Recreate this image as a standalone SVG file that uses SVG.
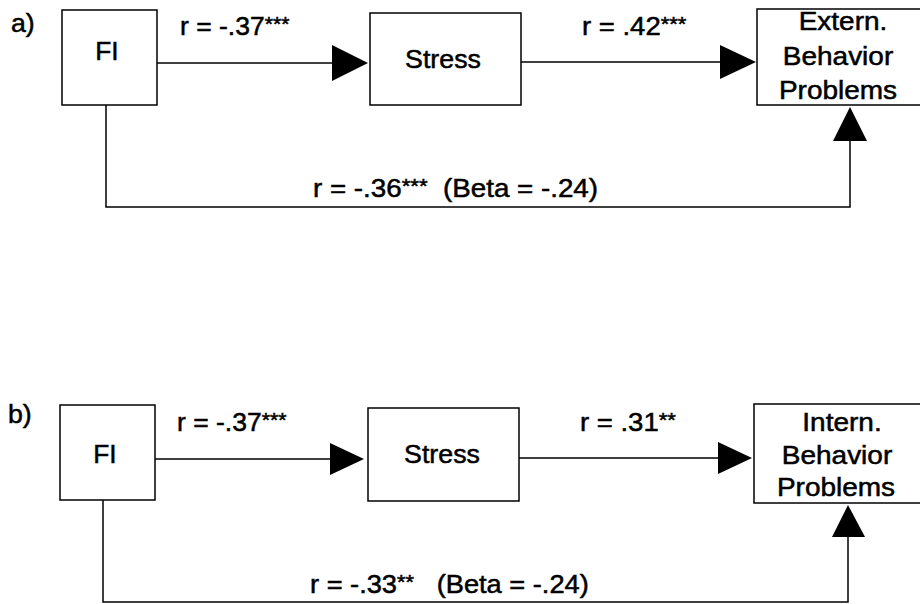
<svg xmlns="http://www.w3.org/2000/svg" width="920" height="604" viewBox="0 0 920 604">
  <style>
    .box { fill: #ffffff; stroke: #000000; stroke-width: 1.5; }
    .wire { fill: none; stroke: #000000; stroke-width: 1.5; }
    .head { fill: #000000; stroke: none; }
    .t { font-family: "Liberation Sans", Arial, sans-serif; font-size: 25px; fill: #000000; stroke: #000000; stroke-width: 0.5; }
    .mid { text-anchor: middle; }
    .st { font-size: 20px; }
  </style>
  <rect width="920" height="604" fill="#ffffff"/>

  <!-- Panel a -->
  <g id="panel-a">
    <text class="t" transform="translate(11,32) scale(1.07,1)">a)</text>

    <g id="a-fi">
      <rect class="box" x="62" y="10" width="95" height="95"/>
      <text class="t mid" transform="translate(107,60) scale(1.05,1)">FI</text>
    </g>

    <g id="a-stress">
      <rect class="box" x="370" y="13" width="151" height="92"/>
      <text class="t mid" transform="translate(443,68) scale(1.07,1)">Stress</text>
    </g>

    <!-- right edge of this box runs past the canvas -->
    <g id="a-extern">
      <rect class="box" x="757" y="9" width="180" height="96"/>
      <text class="t mid" transform="translate(843,30) scale(1.12,1)">Extern.</text>
      <text class="t mid" transform="translate(838,65) scale(1.12,1)">Behavior</text>
      <text class="t mid" transform="translate(838,99) scale(1.12,1)">Problems</text>
    </g>

    <g id="a-connectors">
      <line class="wire" x1="157" y1="63" x2="334" y2="63"/>
      <polygon class="head" points="332,45 368,63 332,81"/>
      <line class="wire" x1="521" y1="62" x2="722" y2="62"/>
      <polygon class="head" points="720,45 756,62 720,79"/>
      <polyline class="wire" points="106,105 106,207 850,207 850,140"/>
      <polygon class="head" points="833,141 850,107 867,141"/>
    </g>

    <g id="a-labels">
      <text class="t" transform="translate(180,35) scale(1.06,1)">r = -.37<tspan class="st" dy="-4">***</tspan></text>
      <text class="t" transform="translate(582,35) scale(1.1,1)">r = .42<tspan class="st" dy="-4">***</tspan></text>
      <text class="t" transform="translate(313,197) scale(1.11,1)" xml:space="preserve">r = -.36<tspan class="st" dy="-4">***</tspan><tspan dy="4">  (Beta = -.24)</tspan></text>
    </g>
  </g>

  <!-- Panel b -->
  <g id="panel-b">
    <text class="t" transform="translate(8,423) scale(1.07,1)">b)</text>

    <g id="b-fi">
      <rect class="box" x="60" y="405" width="95" height="95"/>
      <text class="t mid" transform="translate(105,463) scale(1.05,1)">FI</text>
    </g>

    <g id="b-stress">
      <rect class="box" x="368" y="408" width="151" height="93"/>
      <text class="t mid" transform="translate(442,463) scale(1.07,1)">Stress</text>
    </g>

    <!-- right edge of this box runs past the canvas -->
    <g id="b-intern">
      <rect class="box" x="754" y="404" width="180" height="99"/>
      <text class="t mid" transform="translate(842,431) scale(1.12,1)">Intern.</text>
      <text class="t mid" transform="translate(837,464) scale(1.12,1)">Behavior</text>
      <text class="t mid" transform="translate(836,496) scale(1.12,1)">Problems</text>
    </g>

    <g id="b-connectors">
      <line class="wire" x1="155" y1="459" x2="332" y2="459"/>
      <polygon class="head" points="330,443 364,459 330,475"/>
      <line class="wire" x1="519" y1="458" x2="720" y2="458"/>
      <polygon class="head" points="718,442 752,458 718,474"/>
      <polyline class="wire" points="103,500 103,602 848,602 848,536"/>
      <polygon class="head" points="832,537 848,505 865,537"/>
    </g>

    <g id="b-labels">
      <text class="t" transform="translate(177,431) scale(1.06,1)">r = -.37<tspan class="st" dy="-4">***</tspan></text>
      <text class="t" transform="translate(580,431) scale(1.1,1)">r = .31<tspan class="st" dy="-4">**</tspan></text>
      <text class="t" transform="translate(310,593) scale(1.09,1)" xml:space="preserve">r = -.33<tspan class="st" dy="-4">**</tspan><tspan dy="4">   (Beta = -.24)</tspan></text>
    </g>
  </g>
</svg>
